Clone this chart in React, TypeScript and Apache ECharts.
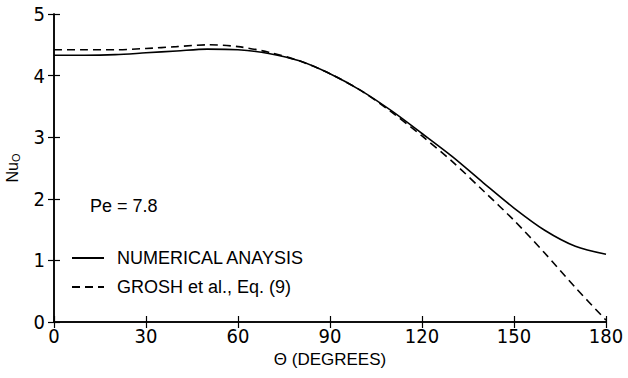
import React, { useEffect, useRef } from "react";
import * as echarts from "echarts";

const thetaDeg = [0, 10, 20, 30, 40, 50, 60, 70, 80, 90, 100, 110, 120, 130, 140, 150, 160, 170, 180];
const numerical = [4.33, 4.33, 4.34, 4.37, 4.4, 4.43, 4.42, 4.36, 4.24, 4.03, 3.76, 3.43, 3.06, 2.68, 2.26, 1.85, 1.49, 1.23, 1.1];
const grosh = [4.42, 4.42, 4.42, 4.44, 4.47, 4.5, 4.47, 4.38, 4.24, 4.03, 3.76, 3.41, 3.02, 2.6, 2.13, 1.65, 1.12, 0.56, 0.03];
const xTicks = { min: 0, max: 180, interval: 30 };
const yTicks = { min: 0, max: 5, interval: 1 };
const seriesNames = ["NUMERICAL ANAYSIS", "GROSH et al., Eq. (9)"];

const NARROW = '"Liberation Sans Narrow", "DejaVu Sans Condensed", "Liberation Sans", sans-serif';
const REG = '"Liberation Sans", Arial, sans-serif';

export default function App() {
  const ref = useRef<HTMLDivElement>(null);
  useEffect(() => {
    if (!ref.current) return;
    const chart = echarts.init(ref.current, undefined, { renderer: "svg" });
    const axisLine = { show: true, lineStyle: { color: "#000", width: 1.5 } };
    const tick = { show: true, inside: true, length: 6, lineStyle: { color: "#000", width: 1.2 } };
    chart.setOption({
      animation: false,
      backgroundColor: "#fff",
      grid: { left: 54, right: 22, top: 14, bottom: 56, containLabel: false, outerBoundsMode: "none" },
      xAxis: [
        {
          type: "value",
          ...xTicks,
          position: "bottom",
          axisLine,
          axisTick: tick,
          splitLine: { show: false },
          axisLabel: { color: "#000", fontFamily: NARROW, fontSize: 20, margin: 4 },
          name: "\u0398 (DEGREES)",
          nameLocation: "middle",
          nameGap: 27,
          nameTextStyle: { color: "#000", fontFamily: REG, fontSize: 17 },
        },
        {
          type: "value",
          ...xTicks,
          position: "top",
          axisLine,
          axisTick: tick,
          splitLine: { show: false },
          axisLabel: { show: false },
        },
      ],
      yAxis: [
        {
          type: "value",
          ...yTicks,
          position: "left",
          axisLine,
          axisTick: tick,
          splitLine: { show: false },
          axisLabel: { color: "#000", fontFamily: NARROW, fontSize: 20, margin: 9 },
          name: "Nu{sub|O}",
          nameLocation: "middle",
          nameGap: 33,
          nameRotate: 90,
          nameTextStyle: {
            color: "#000",
            fontFamily: REG,
            fontSize: 16,
            rich: { sub: { fontSize: 11, fontFamily: REG, color: "#000", verticalAlign: "bottom", padding: [6, 0, 0, 0] } },
          },
        },
        {
          type: "value",
          ...yTicks,
          position: "right",
          axisLine,
          axisTick: tick,
          splitLine: { show: false },
          axisLabel: { show: false },
        },
      ],
      legend: {
        orient: "vertical",
        left: 66,
        top: 243,
        itemWidth: 32,
        itemHeight: 14,
        itemGap: 9,
        itemStyle: { color: "rgba(0,0,0,0)", borderWidth: 0, opacity: 0 },
        textStyle: { color: "#000", fontFamily: REG, fontSize: 18, lineHeight: 20, padding: [0, 0, 0, 8] },
        data: seriesNames,
      },
      graphic: [
        {
          type: "text",
          left: 90,
          top: 197,
          style: { text: "Pe = 7.8", fill: "#000", font: `18px ${REG}` },
        },
      ],
      series: [
        {
          name: seriesNames[0],
          type: "line",
          data: thetaDeg.map((t, i) => [t, numerical[i]]),
          smooth: 0.3,
          symbol: "none",
          lineStyle: { color: "#000", width: 1.6, type: "solid" },
          itemStyle: { color: "#000" },
        },
        {
          name: seriesNames[1],
          type: "line",
          data: thetaDeg.map((t, i) => [t, grosh[i]]),
          smooth: 0.3,
          symbol: "none",
          lineStyle: { color: "#000", width: 1.6, type: [8, 5] },
          itemStyle: { color: "#000" },
        },
      ],
    });
    return () => chart.dispose();
  }, []);
  return <div ref={ref} style={{ width: 628, height: 378, position: "absolute", left: 0, top: 0 }} />;
}
